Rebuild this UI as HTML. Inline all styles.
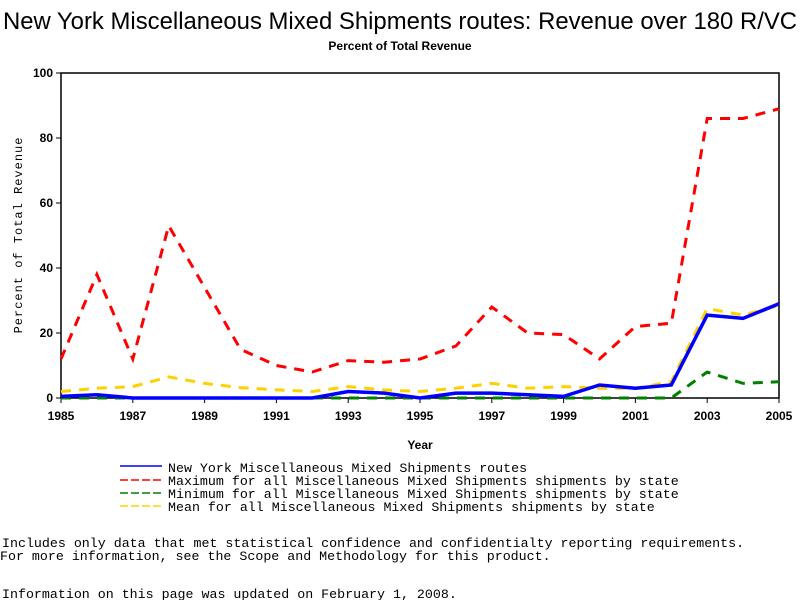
<!DOCTYPE html>
<html><head><meta charset="utf-8"><style>
body{margin:0;background:#fff;width:800px;height:600px;overflow:hidden}
svg{display:block}
text{font-family:"Liberation Sans",sans-serif}
text.m{font-family:"Liberation Mono",monospace}
</style></head><body>
<svg id="c" width="800" height="600">
<text x="400" y="29" font-size="23.9" text-anchor="middle">New York Miscellaneous Mixed Shipments routes: Revenue over 180 R/VC</text>
<text x="400" y="50" font-size="12" font-weight="bold" text-anchor="middle">Percent of Total Revenue</text>
<rect x="61" y="73" width="718" height="325" fill="none" stroke="#000" stroke-width="1.5"/>
<g id="ax"></g>
<g id="series"></g>
<text x="420" y="449" font-size="12" font-weight="bold" text-anchor="middle">Year</text>
<text transform="translate(22,235) rotate(-90)" class="m" font-size="12" letter-spacing="1" text-anchor="middle">Percent of Total Revenue</text>
<g font-size="13.3">
<g><line x1="120" y1="466" x2="162" y2="466" stroke="#0000ff" stroke-width="1.5"/><text class="m" x="168" y="472">New York Miscellaneous Mixed Shipments routes</text></g>
<g><line x1="120" y1="480" x2="162" y2="480" stroke="#ff0000" stroke-width="1.5" stroke-dasharray="8,3"/><text class="m" x="168" y="485">Maximum for all Miscellaneous Mixed Shipments shipments by state</text></g>
<g><line x1="120" y1="493" x2="162" y2="493" stroke="#008000" stroke-width="1.5" stroke-dasharray="8,3"/><text class="m" x="168" y="498">Minimum for all Miscellaneous Mixed Shipments shipments by state</text></g>
<g><line x1="120" y1="506" x2="162" y2="506" stroke="#ffd000" stroke-width="1.5" stroke-dasharray="8,3"/><text class="m" x="168" y="511">Mean for all Miscellaneous Mixed Shipments shipments by state</text></g>
</g>
<text x="2" y="547" class="m" font-size="13.3">Includes only data that met statistical confidence and confidentialty reporting requirements.</text>
<text x="0" y="560" class="m" font-size="13.3">For more information, see the Scope and Methodology for this product.</text>
<text x="2" y="598" class="m" font-size="13.3">Information on this page was updated on February 1, 2008.</text>
</svg>
<script>
const years=[1985,1986,1987,1988,1989,1990,1991,1992,1993,1994,1995,1996,1997,1998,1999,2000,2001,2002,2003,2004,2005];
const nyVals=[0.5,1,0,0,0,0,0,0,2,1.5,0,1.5,1.5,1,0.5,4,3,4,25.5,24.5,29];
const maxVals=[12,38,12,53,34,15,10,8,11.5,11,12,16,28,20,19.5,12,22,23,86,86,89];
const minVals=[0,0,0,0,0,0,0,0,0,0,0,0,0,0,0,0,0,0,8,4.5,5];
const meanVals=[2,3,3.5,6.5,4.5,3.2,2.5,2,3.5,2.5,2,3,4.5,3,3.5,3,3,5,27.5,25.5,28.5];
const yTicks=[0,20,40,60,80,100];
const xTicks=[1985,1987,1989,1991,1993,1995,1997,1999,2001,2003,2005];
const NS="http://www.w3.org/2000/svg";
const X=v=>61+(v-1985)*(718/20);
const Y=v=>398-v*3.25;
function mk(t,a,p){const e=document.createElementNS(NS,t);for(const k in a)e.setAttribute(k,a[k]);p.appendChild(e);return e;}
const ax=document.getElementById('ax');
yTicks.forEach(v=>{
 const l=mk('line',{x1:56,x2:61,y1:Y(v),y2:Y(v),stroke:'#000'},ax);
 
 
 const t=mk('text',{x:53,y:Y(v)+4,'font-size':12,'font-weight':'bold','text-anchor':'end'},ax);
 t.textContent=v;
 
 
});
xTicks.forEach(v=>{
 const l=mk('line',{x1:X(v),x2:X(v),y1:398,y2:403,stroke:'#000'},ax);
 
 
 const t=mk('text',{x:X(v),y:420,'font-size':12,'font-weight':'bold','text-anchor':'middle'},ax);
 t.textContent=v;
 
 
});
const sg=document.getElementById('series');
function line(vals,color,dash,w,name){
 const p=mk('polyline',{points:vals.map((v,i)=>X(years[i])+','+Y(v)).join(' '),fill:'none',stroke:color,'stroke-width':w},sg);
 if(dash)p.setAttribute('stroke-dasharray',dash);
 
 
}
line(minVals,'#008000','10,8',3,'min-line');
line(meanVals,'#ffd000','10,8',3,'mean-line');
line(nyVals,'#0000ff',null,3.5,'ny-line');
line(maxVals,'#ff0000','10,8',3,'max-line');
</script>
</body></html>
